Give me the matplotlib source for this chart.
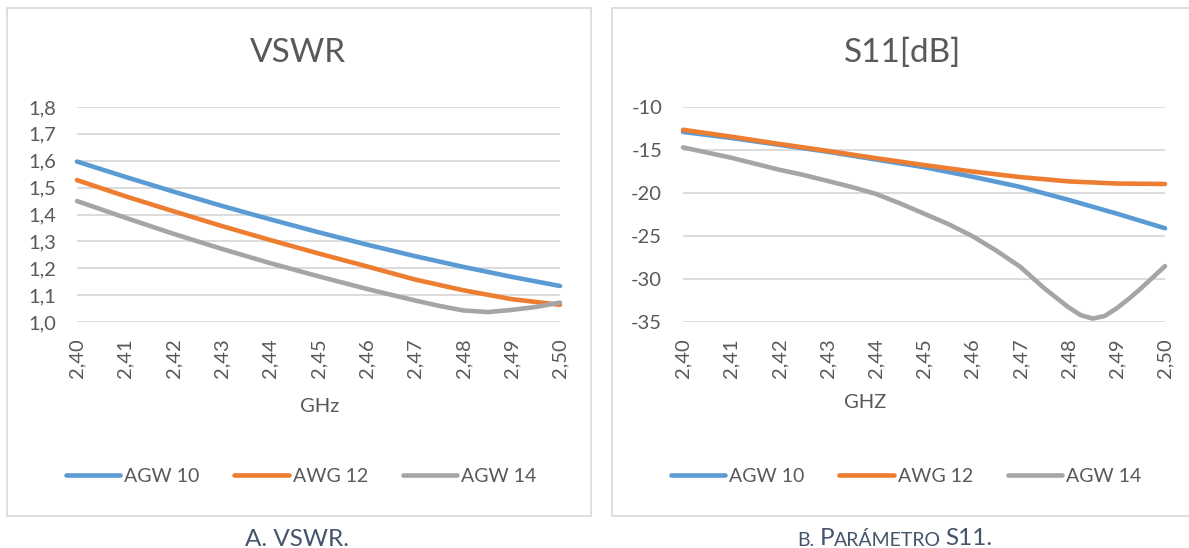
import matplotlib
matplotlib.use("Agg")
import matplotlib.pyplot as plt
from matplotlib.patches import Rectangle
from matplotlib.text import Annotation
from matplotlib.ticker import FuncFormatter

plt.rcParams['font.family'] = ['Lato', 'DejaVu Sans']

# data
freq = [2.40, 2.41, 2.42, 2.43, 2.44, 2.45, 2.46, 2.47, 2.48, 2.49, 2.50]

vswr_agw10 = [1.597, 1.540, 1.485, 1.432, 1.382, 1.334, 1.288, 1.245, 1.205, 1.168, 1.134]
vswr_awg12 = [1.528, 1.468, 1.412, 1.357, 1.305, 1.255, 1.207, 1.158, 1.118, 1.085, 1.064]
freq_vswr14 = [2.40, 2.41, 2.42, 2.43, 2.44, 2.45, 2.46, 2.47, 2.475, 2.48, 2.485, 2.49, 2.495, 2.50]
vswr_agw14 = [1.450, 1.388, 1.328, 1.272, 1.219, 1.170, 1.123, 1.080, 1.060, 1.043, 1.037, 1.045, 1.056, 1.072]

s11_agw10 = [-12.9, -13.6, -14.4, -15.2, -16.1, -17.0, -18.1, -19.3, -20.8, -22.4, -24.1]
s11_awg12 = [-12.65, -13.45, -14.3, -15.1, -15.95, -16.75, -17.5, -18.15, -18.65, -18.9, -18.95]
freq_s1114 = [2.40, 2.405, 2.41, 2.415, 2.42, 2.425, 2.43, 2.435, 2.44, 2.445, 2.45, 2.455,
              2.46, 2.465, 2.47, 2.475, 2.48, 2.4825, 2.485, 2.4875, 2.49, 2.4925, 2.495,
              2.4975, 2.50]
s11_agw14 = [-14.7, -15.3, -15.9, -16.6, -17.3, -17.9, -18.6, -19.3, -20.1, -21.2, -22.4, -23.6,
             -25.0, -26.7, -28.6, -31.1, -33.3, -34.2, -34.6, -34.3, -33.4, -32.3, -31.1,
             -29.8, -28.5]

labels = ["AGW 10", "AWG 12", "AGW 14"]
colors = ["#5B9BD5", "#ED7D31", "#A5A5A5"]
txt = "#595959"
grid = "#D9D9D9"

W, H = 1189, 548
fig = plt.figure(figsize=(W / 100, H / 100), dpi=100)

def fx(x):
    return x / W

def fy(y):
    return 1 - y / H

# chart frames
for x0, x1 in [(7, 591), (612, 1200)]:
    fig.add_artist(Rectangle((fx(x0), fy(516)), fx(x1) - fx(x0), fy(8) - fy(516),
                             transform=fig.transFigure, fill=False, ec=grid, lw=1.2))

def setup(ax, ylim, yticks, yfmt):
    ax.set_xlim(2.40, 2.50)
    ax.set_ylim(*ylim)
    ax.set_xticks(freq)
    ax.set_yticks(yticks)
    ax.xaxis.set_major_formatter(FuncFormatter(lambda v, p: f"{v:.2f}".replace('.', ',')))
    ax.yaxis.set_major_formatter(FuncFormatter(yfmt))
    ax.tick_params(length=0, labelsize=14.5, labelcolor=txt)
    ax.tick_params(axis='x', rotation=90, pad=12)
    ax.tick_params(axis='y', pad=15)
    for s in ax.spines.values():
        s.set_visible(False)
    ax.yaxis.grid(True, color=grid, lw=1.3)
    ax.set_axisbelow(True)

ax1 = fig.add_axes([fx(77), fy(322), fx(560) - fx(77), fy(107) - fy(322)])
setup(ax1, (1.0, 1.8), [1.0 + 0.1 * i for i in range(9)],
      lambda v, p: f"{v:.1f}".replace('.', ','))
handles = []
for xs, ys, c in [(freq, vswr_agw10, colors[0]), (freq, vswr_awg12, colors[1]),
                  (freq_vswr14, vswr_agw14, colors[2])]:
    h, = ax1.plot(xs, ys, color=c, lw=3.3, solid_capstyle='round',
                  solid_joinstyle='round', clip_on=False)
    handles.append(h)

ax2 = fig.add_axes([fx(683), fy(322), fx(1165) - fx(683), fy(107) - fy(322)])
setup(ax2, (-35, -10), [-35, -30, -25, -20, -15, -10], lambda v, p: f"{v:.0f}")
for xs, ys, c in [(freq, s11_agw10, colors[0]), (freq, s11_awg12, colors[1]),
                  (freq_s1114, s11_agw14, colors[2])]:
    ax2.plot(xs, ys, color=c, lw=3.3, solid_capstyle='round',
             solid_joinstyle='round', clip_on=False)

# titles and axis names
fig.text(fx(298), fy(53), "VSWR", ha='center', va='center', fontsize=24, color=txt)
fig.text(fx(903), fy(53), "S11[dB]", ha='center', va='center', fontsize=24, color=txt)
fig.text(fx(320), fy(407), "GHz", ha='center', va='center', fontsize=14.5, color=txt)
fig.text(fx(865), fy(403), "GHZ", ha='center', va='center', fontsize=14.5, color=txt)

# legends
for cx in [301, 906]:
    fig.legend(handles, labels, loc='center', bbox_to_anchor=(fx(cx), fy(476)),
               ncol=3, frameon=False, handlelength=2.8, handletextpad=0.2,
               columnspacing=1.8, prop={'size': 14}, labelcolor=txt)

# captions
cap = "#44546A"
fig.text(fx(297), fy(546), "A. VSWR.", ha='center', va='baseline', fontsize=17.5, color=cap)

pieces = [("B.", 14, 0), ("P", 17.5, 4), ("ARÁMETRO", 14, 0), ("S11.", 17.5, 3)]
prev = fig.text(fx(797), fy(546), pieces[0][0], ha='left', va='baseline',
                fontsize=pieces[0][1], color=cap)
for s, size, gap in pieces[1:]:
    prev = fig.add_artist(Annotation(s, xy=(1, 0), xycoords=prev,
                                     xytext=(gap, 0), textcoords='offset points',
                                     ha='left', va='bottom', fontsize=size, color=cap))

fig.savefig("out.png", dpi=100)
